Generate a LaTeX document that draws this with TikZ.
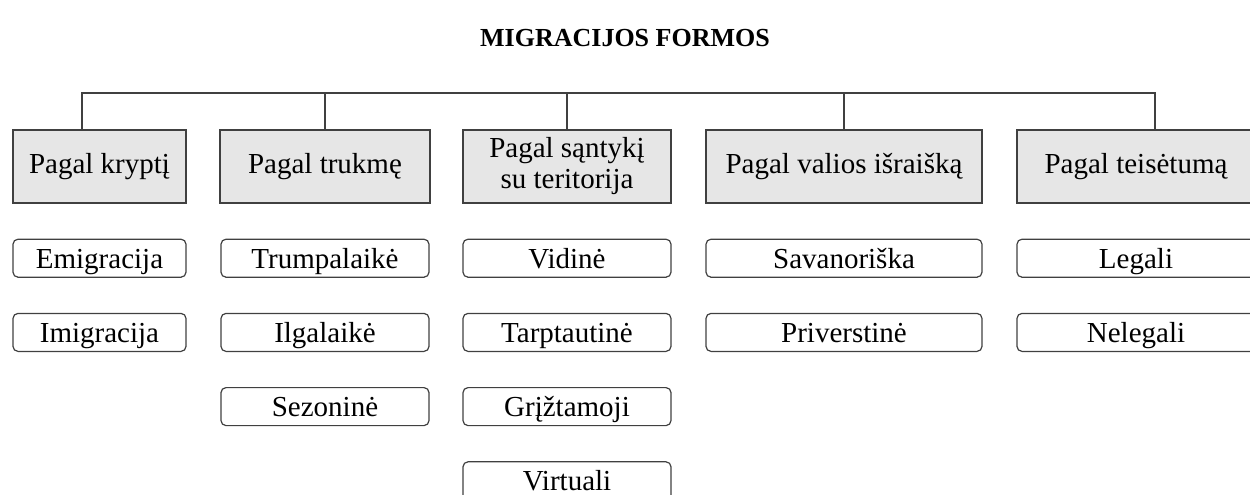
\documentclass[tikz,border=0pt]{standalone}
\usepackage{fontspec}
\setmainfont{Liberation Serif}
\usetikzlibrary{positioning}
\definecolor{HeadGray}{RGB}{230,230,230}
\definecolor{LineGray}{RGB}{64,64,64}

\begin{document}
\begin{tikzpicture}[x=0.5pt, y=-0.5pt, node distance=17.5pt,
    every node/.style={font=\fontsize{14.5}{15.5}\selectfont},
    kind/.style={draw=LineGray, line width=0.6pt, fill=HeadGray, minimum width=#1,
      minimum height=36.5pt, inner sep=2pt, align=center},
    form/.style={draw=LineGray, line width=0.6pt, rounded corners=2.5pt, minimum width=#1,
      minimum height=19pt, inner sep=1pt, text height=11.5pt, text depth=1.5pt}]
    \useasboundingbox (0,0) rectangle (1250,494);

    % Title
    \node[font=\fontsize{13}{15}\selectfont\bfseries] (title) at (625,38) {MIGRACIJOS FORMOS};

    % Classification boxes
    \node[kind=86.5pt] (kryptis) at (99.5,166.5) {Pagal kryptį};
    \node[kind=105pt] (trukme) at (325,166.5) {Pagal trukmę};
    \node[kind=104pt] (santykis) at (567,166.5) {Pagal sąntykį\\su teritorija};
    \node[kind=138pt] (valia) at (844,166.5) {Pagal valios išraišką};
    \node[kind=119pt] (teisetumas) at (1136,166.5) {Pagal teisėtumą};

    % Bus line
    \coordinate (bus) at (0,93);
    \draw[LineGray, line width=0.6pt] ([xshift=-8.75pt]kryptis.north) |- ([xshift=9.5pt]teisetumas.north |- bus) -- ([xshift=9.5pt]teisetumas.north);
    \foreach \n in {trukme, santykis, valia}
        \draw[LineGray, line width=0.6pt] (\n.north) -- (\n.north |- bus);

    % Forms
    \node[form=86.5pt, below=of kryptis] (emigracija) {Emigracija};
    \node[form=86.5pt, below=of emigracija] (imigracija) {Imigracija};

    \node[form=104pt, below=of trukme] (trumpalaike) {Trumpalaikė};
    \node[form=104pt, below=of trumpalaike] (ilgalaike) {Ilgalaikė};
    \node[form=104pt, below=of ilgalaike] (sezonine) {Sezoninė};

    \node[form=104pt, below=of santykis] (vidine) {Vidinė};
    \node[form=104pt, below=of vidine] (tarptautine) {Tarptautinė};
    \node[form=104pt, below=of tarptautine] (griztamoji) {Grįžtamoji};
    \node[form=104pt, below=of griztamoji] (virtuali) {Virtuali};

    \node[form=138pt, below=of valia] (savanoriska) {Savanoriška};
    \node[form=138pt, below=of savanoriska] (priverstine) {Priverstinė};

    \node[form=119pt, below=of teisetumas] (legali) {Legali};
    \node[form=119pt, below=of legali] (nelegali) {Nelegali};
\end{tikzpicture}
\end{document}
